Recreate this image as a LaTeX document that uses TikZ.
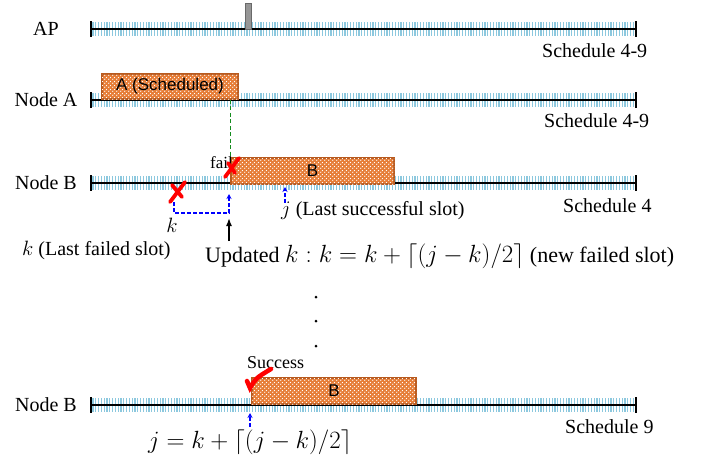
\documentclass[tikz,border=0pt]{standalone}
\usepackage{fontspec}
\setmainfont{Liberation Serif}
\newfontfamily\boxfont{Liberation Sans}
\usetikzlibrary{patterns,arrows.meta}
\definecolor{slotblue}{RGB}{140,200,222}
\definecolor{boxorange}{RGB}{230,125,55}
\definecolor{boxedge}{RGB}{185,90,30}
\definecolor{apgray}{RGB}{150,150,150}
\definecolor{schedgreen}{RGB}{20,140,30}
\pgfdeclarepatternformonly{slotdots}{\pgfpointorigin}{\pgfpoint{4pt}{4pt}}{\pgfpoint{4pt}{4pt}}{%
	\pgfpathcircle{\pgfpoint{1pt}{1pt}}{0.8pt}%
	\pgfpathcircle{\pgfpoint{3pt}{3pt}}{0.8pt}%
	\pgfusepath{fill}}
\begin{document}
\begin{tikzpicture}[x=1pt,y=-1pt,
		lbl/.style={font=\fontsize{20}{24}\selectfont, inner sep=0pt},
		sched/.style={lbl, anchor=base west},
		slotbox/.style={draw=boxedge, line width=1.2pt, fill=boxorange,
			postaction={pattern=slotdots, pattern color=white},
			font=\boxfont\fontsize{17}{20}\selectfont, minimum height=26pt, inner sep=0pt},
		slottick/.style={slotblue, line width=1.1pt},
		timeline/.style={line width=1.4pt},
		redx/.style={red, line width=3.8pt, line cap=round},
		bluearrow/.style={blue, dash pattern=on 4pt off 2pt, line width=1.3pt, -{Stealth[length=5pt,width=5pt]}}]
	\useasboundingbox (0,0) rectangle (704,464);
	\foreach \y in {29,100,183,405} {
		\foreach \i in {0,...,193}
			\draw[slottick] (93+2.8*\i,\y-7) -- ++(0,14);
		\draw[timeline] (91,\y) -- (636,\y);
		\draw[timeline] (91,\y-8) -- (91,\y+8);
		\draw[timeline] (636,\y-8) -- (636,\y+8);
	}
	\draw[draw=apgray!70!black, fill=apgray] (245,3) rectangle (251,29);
	\node[lbl] (ap) at (46,29) {AP};
	\node[lbl] (nodeA) at (46,100) {Node A};
	\node[lbl] (nodeB) at (46,183) {Node B};
	\node[lbl] (nodeBlast) at (46,405) {Node B};
	\node[sched] (schedap) at (542,57) {Schedule 4-9};
	\node[sched] (schedA) at (544,127) {Schedule 4-9};
	\node[sched] (schedB) at (563,212) {Schedule 4};
	\node[sched] (schedBlast) at (565,433) {Schedule 9};
	\node[slotbox, minimum width=136pt, minimum height=25pt] (boxA) at (170,86.5) {A (Scheduled)};
	\node[slotbox, minimum width=163pt] (boxB) at (312.5,171) {B};
	\node[slotbox, minimum width=164pt] (boxBlast) at (334,391) {B};
	\draw[schedgreen, dash pattern=on 4pt off 2.5pt, line width=1.3pt] (boxB.north west |- boxA.south) -- (boxB.north west);
	\node[lbl, anchor=base west, font=\fontsize{17}{20}\selectfont] (fail) at (210,168) {fail};
	\draw[redx] (239,158) -- (225,177);
	\draw[redx] (228,163) -- (235,173);
	\draw[redx] (185,182) -- (170,202);
	\draw[redx] (172,185) -- (182,197);
	\coordinate (kslot) at (174,202);
	\coordinate (kbend) at (174,213);
	\coordinate (newk) at (229,194);
	\draw[bluearrow] (kslot) -- (kbend) -| (newk);
	\node[lbl, anchor=base] (klabel) at (172,232) {$k$};
	\node[lbl, anchor=base west] (kfailed) at (22,255) {$k$ (Last failed slot)};
	\coordinate (jslot) at (285,187);
	\coordinate (jfoot) at (285,203);
	\draw[bluearrow] (jfoot) -- (jslot);
	\node[lbl, anchor=base west] (jlabel) at (281,215) {$j$ (Last successful slot)};
	\node[lbl, anchor=base west, font=\fontsize{22}{26}\selectfont] (upd) at (205,262)
		{Updated {\fontsize{24}{28}\selectfont$k : k = k + \lceil (j-k)/2 \rceil$} (new failed slot)};
	\coordinate (updk) at (229,218);
	\coordinate (updfoot) at (229,241);
	\draw[line width=1.5pt, -{Latex[length=8pt,width=6pt]}] (updfoot) -- (updk);
	\foreach \y in {297,321,346}
		\fill (316,\y) circle (1.5pt);
	\node[lbl, anchor=base west, font=\fontsize{18}{22}\selectfont] (success) at (247,368) {Success};
	\draw[red, line width=4.5pt, line cap=round] (247,381) -- (250,388) .. controls (256,378) .. (271,369);
	\coordinate (jnew) at (250,413);
	\coordinate (jnewfoot) at (250,427);
	\draw[bluearrow] (jnewfoot) -- (jnew);
	\node[lbl, anchor=base west, font=\fontsize{24}{28}\selectfont] (jformula) at (148,448)
		{$j = k + \lceil (j-k)/2 \rceil$};
\end{tikzpicture}
\end{document}
